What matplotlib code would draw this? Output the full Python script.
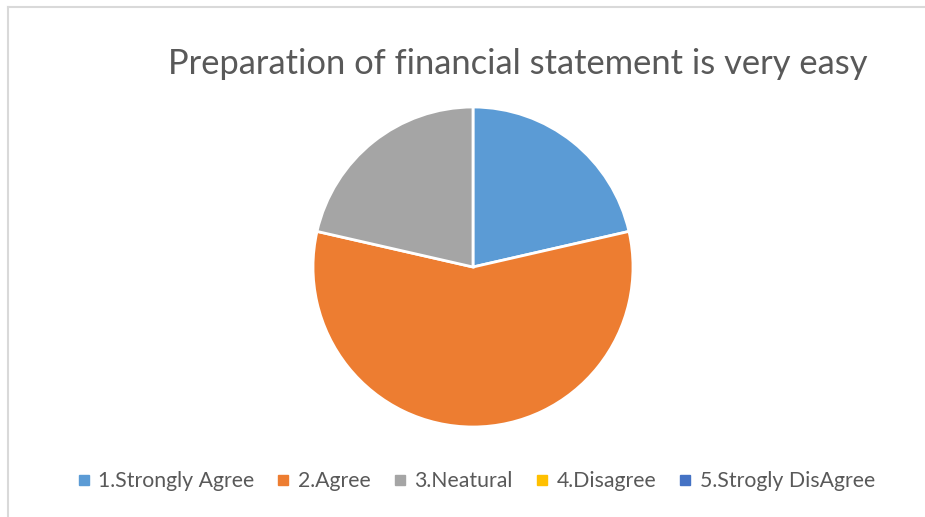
import matplotlib
matplotlib.use("Agg")
import matplotlib.pyplot as plt
from matplotlib.lines import Line2D

title = "Preparation of financial statement is very easy"
categories = ["1.Strongly Agree", "2.Agree", "3.Neatural", "4.Disagree", "5.Strogly DisAgree"]
values = [6, 16, 6, 0, 0]
colors = ["#5B9BD5", "#ED7D31", "#A5A5A5", "#FFC000", "#4472C4"]

plt.rcParams['font.family'] = ['Lato', 'DejaVu Sans']

W, H = 925, 517
fig = plt.figure(figsize=(W/100, H/100), dpi=100)
fig.patch.set_facecolor("white")

# chart border (left and top visible)
fig.add_artist(Line2D([8/W, 8/W], [0, 1 - 7/H], color="#D9D9D9", lw=1.5, transform=fig.transFigure))
fig.add_artist(Line2D([8/W, 1], [1 - 7/H, 1 - 7/H], color="#D9D9D9", lw=1.5, transform=fig.transFigure))

cx, cy, r = 473, H - 267, 160
ax = fig.add_axes([(cx - r)/W, (cy - r)/H, 2*r/W, 2*r/H])
nz = [(v, c) for v, c in zip(values, colors) if v > 0]
ax.pie([v for v, _ in nz], colors=[c for _, c in nz], startangle=90, counterclock=False,
       radius=1, wedgeprops=dict(edgecolor="white", linewidth=2))
ax.set_xlim(-1.0, 1.0)
ax.set_ylim(-1.0, 1.0)
ax.set_aspect("equal")
ax.axis("off")

fig.text(518/W, 1 - 64/H, title, ha="center", va="center", fontsize=24.8, color="#595959")

handles = [Line2D([], [], marker="s", linestyle="none", markersize=6.5, markerfacecolor=c,
                  markeredgecolor=c) for c in colors]
fig.legend(handles, categories, loc="center", bbox_to_anchor=(475/W, 1 - 481/H), ncol=5,
           frameon=False, fontsize=15.3, labelcolor="#595959", handletextpad=0.3,
           columnspacing=0.95, handlelength=0.8)

fig.savefig("out.png", dpi=100)
